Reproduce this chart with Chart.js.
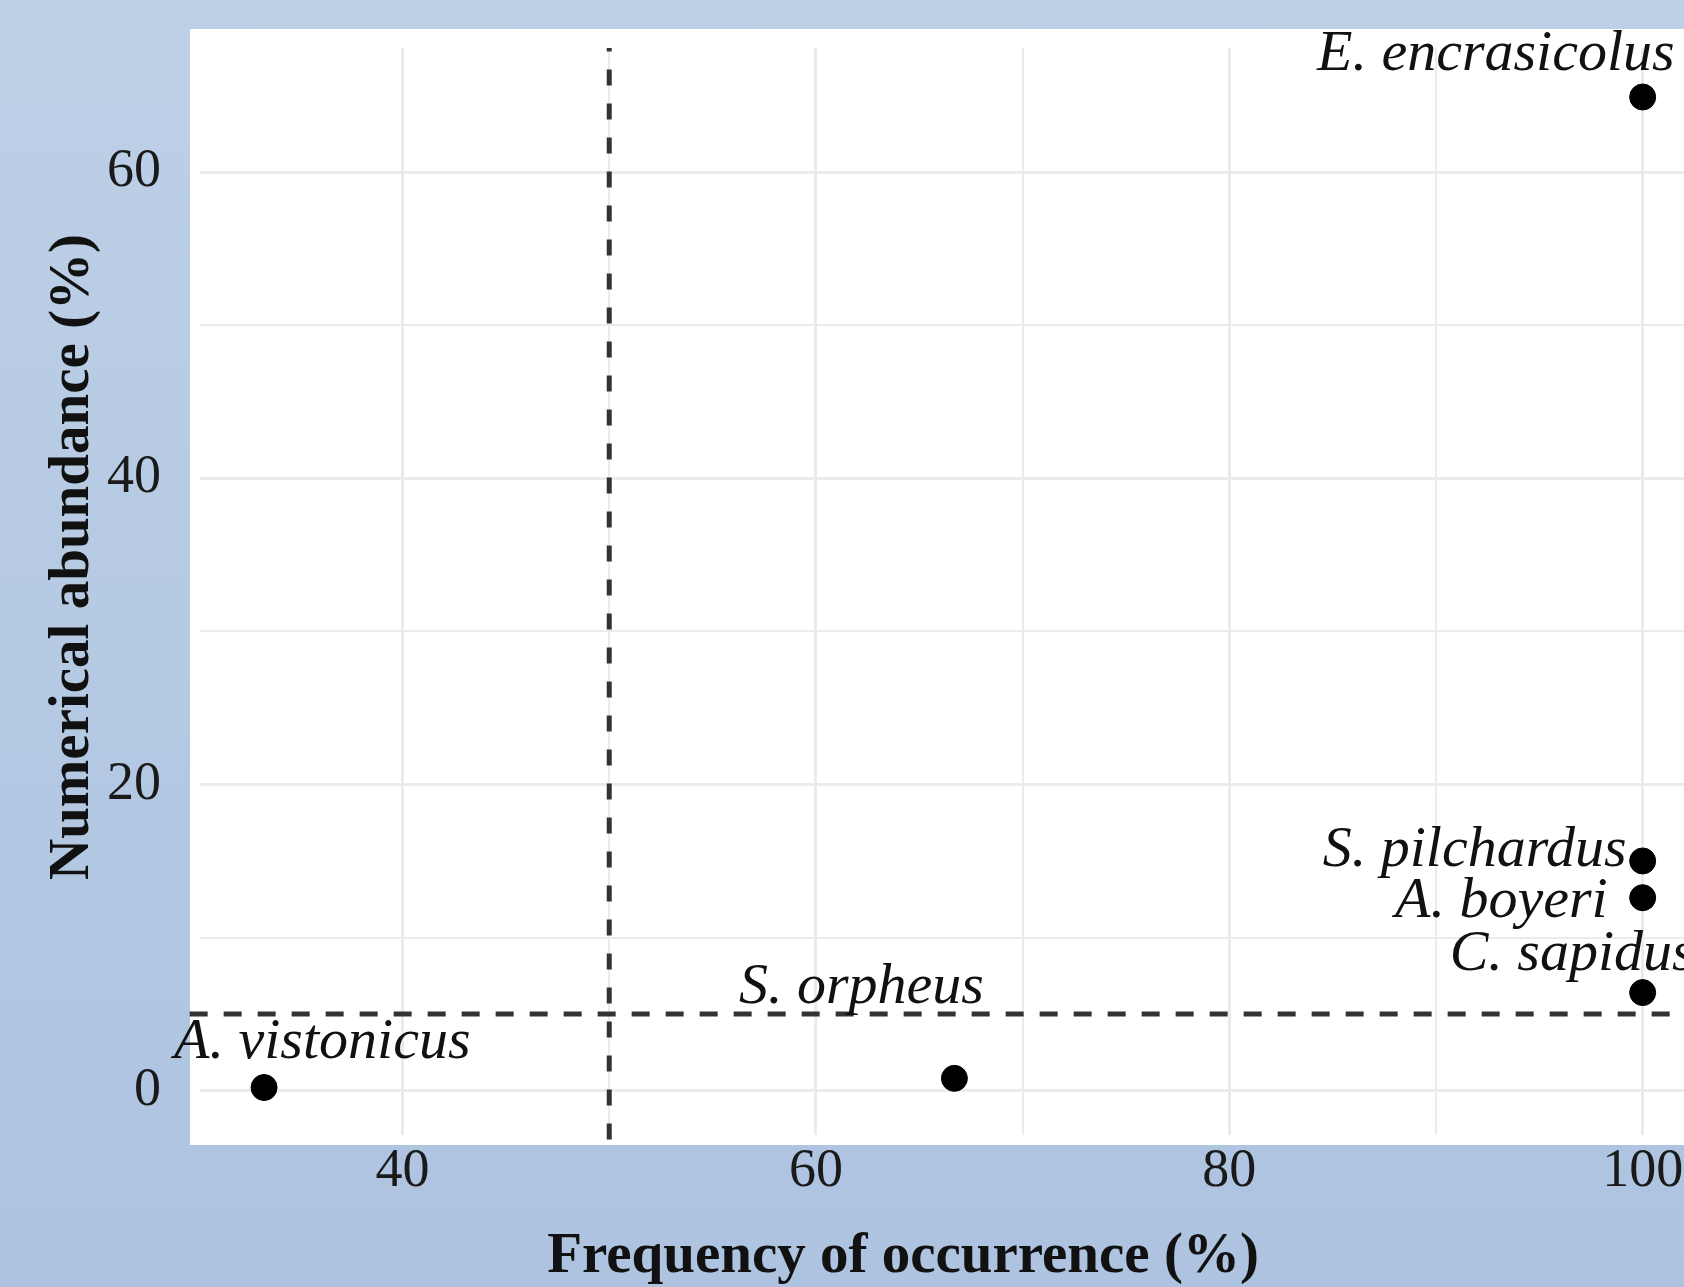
<!DOCTYPE html>
<html>
<head>
<meta charset="utf-8">
<script src="https://cdn.jsdelivr.net/npm/chart.js@4.4.0/dist/chart.umd.min.js"></script>
<style>
  html, body { margin: 0; padding: 0; }
  body {
    width: 1684px; height: 1287px; overflow: hidden;
    background: linear-gradient(to bottom, #bdd0e6, #adc3e0);
  }
  #wrap { width: 1684px; height: 1287px; }
</style>
</head>
<body>
<div id="wrap"><canvas id="chart" width="1684" height="1287"></canvas></div>
<script>
// species sampled
const species = ['E. encrasicolus', 'S. pilchardus', 'A. boyeri', 'C. sapidus', 'S. orpheus', 'A. vistonicus'];
const frequency = [100, 100, 100, 100, 66.7, 33.3];   // % occurrence
const abundance = [64.9, 15.0, 12.6, 6.4, 0.8, 0.2];  // % numerical
const xTicks = [40, 60, 80, 100];
const yTicks = [0, 20, 40, 60];
const freqCut = 50;     // vertical dashed line
const abundCut = 5;     // horizontal dashed line

// label placement next to each point (px): dx, dy, align
const labelPlace = [
    [32, -27, 'right'],
    [-16, 5, 'right'],
    [-35, 19, 'right'],
    [-193, -23, 'left'],
    [-93, -75, 'center'],
    [-90, -30, 'left']
];

const serif = '"Liberation Serif", "Times New Roman", serif';

const points = species.map((s, i) => ({ x: frequency[i], y: abundance[i] }));

const decorPlugin = {
    id: 'decor',
    beforeDraw(chart) {
        const { ctx, chartArea: a } = chart;
        ctx.save();
        ctx.fillStyle = '#ffffff';
        ctx.fillRect(a.left - 10, a.top - 19, a.right - a.left + 20, a.bottom - a.top + 29);
        ctx.restore();
    },
    afterDraw(chart) {
        const { ctx } = chart;
        const meta = chart.getDatasetMeta(2);
        ctx.save();
        ctx.fillStyle = '#111111';
        ctx.font = 'italic 58px ' + serif;
        ctx.textBaseline = 'alphabetic';
        meta.data.forEach((el, i) => {
            const p = labelPlace[i];
            ctx.textAlign = p[2];
            ctx.fillText(species[i], el.x + p[0], el.y + p[1]);
        });

        // axis titles
        ctx.font = 'bold 57px ' + serif;
        ctx.textAlign = 'center';
        ctx.textBaseline = 'middle';
        ctx.fillText('Frequency of occurrence (%)', 903, 1257);
        ctx.translate(73, 557);
        ctx.rotate(-Math.PI / 2);
        ctx.fillText('Numerical abundance (%)', 0, 0);
        ctx.restore();
    }
};

new Chart(document.getElementById('chart'), {
    type: 'scatter',
    data: {
        datasets: [
            {
                type: 'line',
                data: [{ x: freqCut, y: -3.2 }, { x: freqCut, y: 68.1 }],
                borderColor: '#333333',
                borderWidth: 5,
                borderDash: [16, 18],
                pointRadius: 0,
                clip: false
            },
            {
                type: 'line',
                data: [{ x: 29.7, y: abundCut }, { x: 102, y: abundCut }],
                borderColor: '#333333',
                borderWidth: 5,
                borderDash: [18, 16],
                pointRadius: 0,
                clip: false
            },
            {
                data: points,
                backgroundColor: '#000000',
                borderColor: '#000000',
                pointRadius: 13,
                pointHoverRadius: 13,
                clip: false
            }
        ]
    },
    options: {
        responsive: false,
        animation: false,
        events: [],
        layout: { autoPadding: false, padding: { top: 48, right: 0, left: 0, bottom: 0 } },
        plugins: { legend: { display: false }, tooltip: { enabled: false } },
        scales: {
            x: {
                type: 'linear',
                min: 30.2,
                max: 102,
                border: { display: false },
                afterFit(scale) {
                    scale.height = 152;
                    scale.paddingLeft = 0;
                    scale.paddingRight = 0;
                },
                grid: {
                    drawTicks: false,
                    color: '#ebebeb',
                    lineWidth: ctx => xTicks.includes(ctx.tick.value) ? 3 : 2
                },
                ticks: {
                    stepSize: 10,
                    includeBounds: false,
                    autoSkip: false,
                    maxRotation: 0,
                    padding: 4,
                    color: '#1a1a1a',
                    font: { family: serif, size: 54 },
                    callback: v => xTicks.includes(v) ? String(v) : ''
                }
            },
            y: {
                type: 'linear',
                min: -2.9,
                max: 68.1,
                border: { display: false },
                afterFit(scale) {
                    scale.width = 200;
                    scale.paddingTop = 0;
                    scale.paddingBottom = 0;
                },
                grid: {
                    drawTicks: false,
                    color: '#ebebeb',
                    lineWidth: ctx => yTicks.includes(ctx.tick.value) ? 3 : 2
                },
                ticks: {
                    stepSize: 10,
                    includeBounds: false,
                    autoSkip: false,
                    padding: 39,
                    color: '#1a1a1a',
                    font: { family: serif, size: 54 },
                    callback: v => yTicks.includes(v) ? String(v) : ''
                }
            }
        }
    },
    plugins: [decorPlugin]
});
</script>
</body>
</html>
